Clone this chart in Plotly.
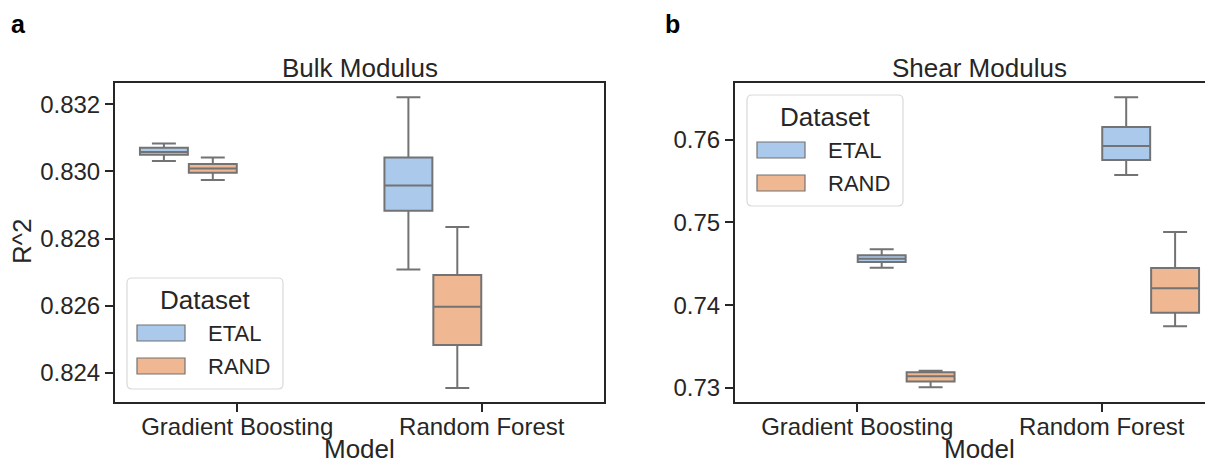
import plotly.graph_objects as go

# the page body has an 8px margin, so the figure is drawn 8px smaller
OFF = 8
W, H = 1213 - OFF, 464 - OFF

models = ["Gradient Boosting", "Random Forest"]
datasets = ["ETAL", "RAND"]

# Bulk modulus R^2 box stats, per dataset: [Gradient Boosting, Random Forest]
bulk_etal_lo = [0.83031, 0.82708]
bulk_etal_q1 = [0.83050, 0.82883]
bulk_etal_med = [0.83058, 0.82958]
bulk_etal_q3 = [0.83071, 0.83042]
bulk_etal_hi = [0.83083, 0.83221]

bulk_rand_lo = [0.82975, 0.82355]
bulk_rand_q1 = [0.82996, 0.82483]
bulk_rand_med = [0.83009, 0.82597]
bulk_rand_q3 = [0.83022, 0.82692]
bulk_rand_hi = [0.83042, 0.82835]

# Shear modulus R^2 box stats
shear_etal_lo = [0.74454, 0.75573]
shear_etal_q1 = [0.74522, 0.75754]
shear_etal_med = [0.74562, 0.75924]
shear_etal_q3 = [0.74603, 0.76153]
shear_etal_hi = [0.74675, 0.76511]

shear_rand_lo = [0.73008, 0.73745]
shear_rand_q1 = [0.73080, 0.73910]
shear_rand_med = [0.73141, 0.74204]
shear_rand_q3 = [0.73189, 0.74450]
shear_rand_hi = [0.73209, 0.74885]

colors = {"ETAL": "#abc9ea", "RAND": "#efb792"}
line_col = "#737373"
text_col = "#262626"
FONT = "Liberation Sans, Arial, sans-serif"


def px(x):
    return (x - OFF) / W


def py(y):
    return 1 - (y - OFF) / H


fig = go.Figure()


def add_box(name, lo, q1, med, q3, hi, xa, ya):
    fig.add_trace(go.Box(
        x=models, lowerfence=lo, q1=q1, median=med, q3=q3, upperfence=hi,
        name=name, fillcolor=colors[name],
        line=dict(color=line_col, width=2),
        whiskerwidth=0.5, boxpoints=False, showlegend=False,
        xaxis=xa, yaxis=ya,
    ))


add_box("ETAL", bulk_etal_lo, bulk_etal_q1, bulk_etal_med, bulk_etal_q3, bulk_etal_hi, "x", "y")
add_box("RAND", bulk_rand_lo, bulk_rand_q1, bulk_rand_med, bulk_rand_q3, bulk_rand_hi, "x", "y")
add_box("ETAL", shear_etal_lo, shear_etal_q1, shear_etal_med, shear_etal_q3, shear_etal_hi, "x2", "y2")
add_box("RAND", shear_rand_lo, shear_rand_q1, shear_rand_med, shear_rand_q3, shear_rand_hi, "x2", "y2")

# panel geometry in reference pixels
L1, R1 = 115, 604
L2 = 735
TOP, BOT = 83, 402
unit = (R1 - L1) / 2.0
x2_end = 1 + (1213 - (L2 + 1.5 * unit)) / unit

ax_common = dict(
    showline=True, linecolor=text_col, linewidth=2,
    ticks="outside", ticklen=8, tickwidth=1.5, tickcolor=text_col,
    tickfont=dict(size=24, color=text_col, family=FONT),
    showgrid=False, zeroline=False, automargin=False,
)

fig.update_layout(
    width=W, height=H,
    margin=dict(l=0, r=0, t=0, b=0),
    plot_bgcolor="white", paper_bgcolor="white",
    font=dict(family=FONT, color=text_col),
    boxmode="group", boxgap=0.2, boxgroupgap=0.02,
    showlegend=False,
    xaxis=dict(domain=[px(L1), px(R1)], range=[-0.5, 1.5], mirror=True,
               type="category", anchor="y", ticklabelstandoff=-6, **ax_common),
    yaxis=dict(domain=[py(BOT), py(TOP)], range=[0.823136, 0.832635],
               mirror=True, tickvals=[0.824, 0.826, 0.828, 0.830, 0.832],
               tickformat=".3f", anchor="x", **ax_common),
    xaxis2=dict(domain=[px(L2), 1], range=[-0.5, x2_end], mirror=True,
                type="category", anchor="y2", ticklabelstandoff=-6, **ax_common),
    yaxis2=dict(domain=[py(BOT), py(TOP)], range=[0.728309, 0.766846],
                mirror=False, tickvals=[0.73, 0.74, 0.75, 0.76],
                tickformat=".2f", anchor="x2", **ax_common),
)

ann = []
shapes = []


def text(t, x, y, size, **kw):
    d = dict(text=t, x=px(x), y=py(y), xref="paper", yref="paper", showarrow=False,
             xanchor="center", yanchor="middle",
             font=dict(size=size, color=kw.pop("color", text_col), family=FONT))
    d.update(kw)
    ann.append(d)


def rounded_rect(x0, y0, x1, y1, r):
    X0, X1 = px(x0), px(x1)
    Y0, Y1 = py(y0), py(y1)
    rx, ry = r / W, r / H
    return (f"M {X0 + rx},{Y0} L {X1 - rx},{Y0} Q {X1},{Y0} {X1},{Y0 - ry} "
            f"L {X1},{Y1 + ry} Q {X1},{Y1} {X1 - rx},{Y1} L {X0 + rx},{Y1} "
            f"Q {X0},{Y1} {X0},{Y1 + ry} L {X0},{Y0 - ry} Q {X0},{Y0} {X0 + rx},{Y0} Z")


def legend(x0, y0):
    shapes.append(dict(type="path", path=rounded_rect(x0, y0, x0 + 156, y0 + 111, 5),
                       xref="paper", yref="paper", fillcolor="white",
                       line=dict(color="#d9d9d9", width=1.2)))
    text("Dataset", x0 + 78, y0 + 22, 26)
    for i, name in enumerate(datasets):
        cy = y0 + 55 + i * 33
        shapes.append(dict(type="rect", xref="paper", yref="paper",
                           x0=px(x0 + 10), x1=px(x0 + 58), y0=py(cy - 8), y1=py(cy + 8),
                           fillcolor=colors[name], line=dict(color=line_col, width=1.2)))
        text(name, x0 + 79, cy, 22, xanchor="left")


legend(127, 278)
legend(747, 95)

# subplot titles
text("Bulk Modulus", (L1 + R1) / 2, 68, 26)
text("Shear Modulus", L2 + unit, 68, 26)
# axis titles
text("Model", (L1 + R1) / 2, 449, 26)
text("Model", L2 + unit, 449, 26)
text("R^2", 22, 242, 26, textangle=-90)
# panel letters
text("<b>a</b>", 18, 24, 25, color="black")
text("<b>b</b>", 672, 24, 25, color="black")

fig.update_layout(annotations=ann, shapes=shapes)

fig.write_html("out.html")
